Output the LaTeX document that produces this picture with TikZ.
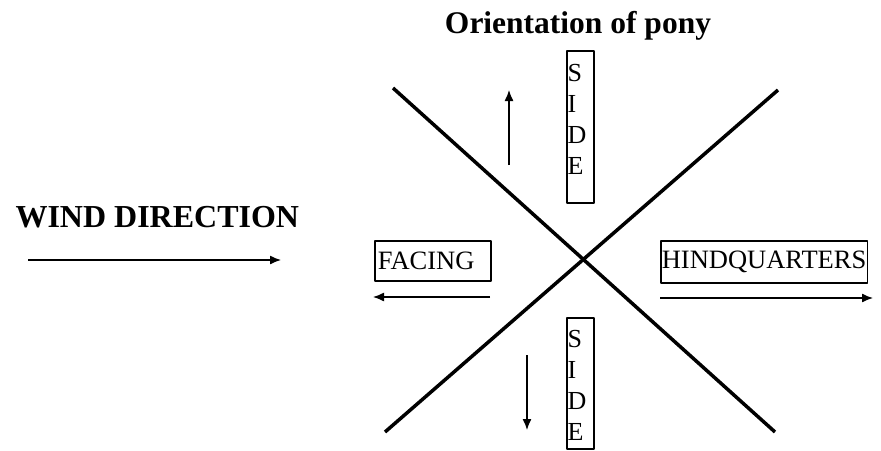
\documentclass[tikz,border=0pt]{standalone}
\usepackage{fontspec}
\setmainfont{Liberation Serif}
\usetikzlibrary{arrows.meta}
\tikzset{
  labelbox/.style={draw, line width=1.6pt, anchor=north west, inner xsep=2pt, inner ysep=0pt, align=left, font=\rmfamily\fontsize{26.5}{31}\selectfont},
  sidebox/.style={draw, line width=1.6pt, anchor=north west, minimum width=27pt, inner sep=0pt},
  sidetext/.style={anchor=north west, inner sep=0pt, align=left, font=\rmfamily\fontsize{26}{31}\selectfont},
  cross/.style={line width=3.5pt},
  flow/.style={->, line width=1.3pt},
}
\begin{document}
\begin{tikzpicture}[x=1pt, y=-1pt, >={Latex[length=11pt,width=9pt]}, line join=round]
  \useasboundingbox (0,0) rectangle (881,450);
  % title and wind
  \node[anchor=base, font=\bfseries\fontsize{31.5}{36}\selectfont] (title) at (578,33) {Orientation of pony};
  \node[anchor=base west, font=\bfseries\fontsize{32}{36}\selectfont] (wind) at (12,227) {WIND DIRECTION};
  \coordinate (windA) at (28,260);
  \coordinate (windB) at (281,260);
  \draw[flow] (windA) -- (windB);
  % the cross
  \coordinate (nw) at (393,88);
  \coordinate (se) at (775,432);
  \coordinate (sw) at (385,432);
  \coordinate (ne) at (778,90);
  \draw[cross] (nw) -- (se);
  \draw[cross] (sw) -- (ne);
  % facing / hindquarters
  \node[labelbox, minimum width=116pt, minimum height=40pt, text width=110pt] (facing) at (374,240) {FACING};
  \node[labelbox, minimum height=42pt, inner xsep=1pt] (hind) at (660,240) {HINDQUARTERS};
  \coordinate (faceA) at (490,297);
  \coordinate (faceB) at (373,297);
  \draw[flow] (faceA) -- (faceB);
  \coordinate (hindA) at (660,298);
  \coordinate (hindB) at (873,298);
  \draw[flow] (hindA) -- (hindB);
  % sides
  \node[sidebox, minimum height=152pt] (sidetopbox) at (566,50) {};
  \node[sidetext] (sidetop) at ([xshift=1.5pt, yshift=-14pt]sidetopbox.north west) {S\\I\\D\\E};
  \node[sidebox, minimum height=131pt] (sidebotbox) at (566,317) {};
  \node[sidetext] (sidebot) at ([xshift=1.5pt, yshift=-13pt]sidebotbox.north west) {S\\I\\D\\E};
  \coordinate (upA) at (509,165);
  \coordinate (upB) at (509,90);
  \draw[flow] (upA) -- (upB);
  \coordinate (downA) at (527,355);
  \coordinate (downB) at (527,430);
  \draw[flow] (downA) -- (downB);
\end{tikzpicture}
\end{document}
